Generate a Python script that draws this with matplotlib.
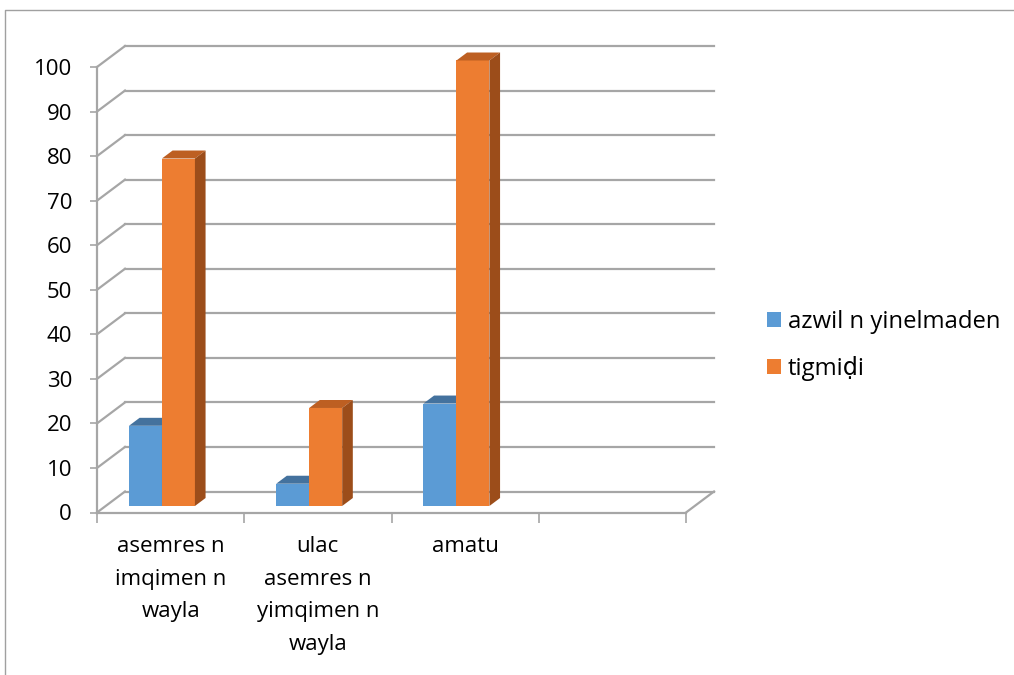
import matplotlib
matplotlib.use("Agg")
import matplotlib.pyplot as plt
from matplotlib.patches import Polygon, Patch
from matplotlib.lines import Line2D

plt.rcParams['font.family'] = ['Open Sans', 'DejaVu Sans']

categories = ["asemres n\nimqimen n\nwayla",
              "ulac\nasemres n\nyimqimen n\nwayla",
              "amatu",
              ""]
series_names = ["azwil n yinelmaden", "tigmiḍi"]
azwil = [18, 5, 23]
tigmidi = [78, 22, 100]
yticks = list(range(0, 101, 10))

front_cols = ["#5b9bd5", "#ed7d31"]
top_cols = ["#44729e", "#bd5f22"]
side_cols = ["#3b6792", "#9c4d1a"]
grid_col = "#a6a6a6"

# fake 3d: depth offset per unit depth, in data units
DX = 28 / 147.25
DY = 21 / 4.455
Z0, Z1 = 0.31, 0.69
BAR_W = 0.224
FRONT_OFF = 0.441
FS = 16

fig = plt.figure(figsize=(10.14, 6.75), dpi=100)
ax = fig.add_axes([97 / 1014, 162.5 / 675, 589 / 1014, 445.5 / 675])
ax.set_xlim(0, len(categories))
ax.set_ylim(0, 100)

# back wall and left wall gridlines
for v in yticks:
    ax.plot([DX, len(categories) + DX], [v + DY, v + DY], color=grid_col,
            lw=1.6, clip_on=False, zorder=1)
    ax.plot([0, DX], [v, v + DY], color=grid_col, lw=1.6, clip_on=False, zorder=1)
# floor right edge
ax.plot([len(categories), len(categories) + DX], [0, DY], color=grid_col,
        lw=1.6, clip_on=False, zorder=1)


def draw_bars(vals, k):
    xs = [i + FRONT_OFF + (k - 0.5) * BAR_W for i in range(len(vals))]
    ax.bar(xs, vals, width=BAR_W, bottom=Z0 * DY, color=front_cols[k],
           zorder=3 + k, clip_on=False)
    ddx = (Z1 - Z0) * DX
    ddy = (Z1 - Z0) * DY
    for x, v in zip(xs, vals):
        x0 = x - BAR_W / 2
        x1 = x + BAR_W / 2
        y0 = Z0 * DY
        y1 = v + Z0 * DY
        top = [(x0, y1), (x1, y1), (x1 + ddx, y1 + ddy), (x0 + ddx, y1 + ddy)]
        side = [(x1, y0), (x1, y1), (x1 + ddx, y1 + ddy), (x1 + ddx, y0 + ddy)]
        ax.add_patch(Polygon(top, closed=True, color=top_cols[k], zorder=3 + k,
                             clip_on=False, lw=0))
        ax.add_patch(Polygon(side, closed=True, color=side_cols[k], zorder=3 + k,
                             clip_on=False, lw=0))


draw_bars(azwil, 0)
draw_bars(tigmidi, 1)

# axes
for s in ["top", "right"]:
    ax.spines[s].set_visible(False)
for s in ["left", "bottom"]:
    ax.spines[s].set_color(grid_col)
    ax.spines[s].set_linewidth(1.6)
    ax.spines[s].set_zorder(2)

ax.set_yticks(yticks)
ax.tick_params(axis="y", direction="out", length=5, width=1.2, color=grid_col,
               pad=13, labelsize=FS, labelcolor="black")
ax.set_xticks([i + 0.5 for i in range(len(categories))])
ax.set_xticklabels(categories, linespacing=1.72)
ax.set_xticks(range(len(categories) + 1), minor=True)
ax.tick_params(axis="x", which="major", length=0, pad=17, labelsize=FS,
               labelcolor="black")
ax.tick_params(axis="x", which="minor", direction="out", length=7, width=1.2,
               color=grid_col)
for t in ax.get_xticklabels():
    t.set_verticalalignment("top")

handles = [Patch(facecolor=front_cols[0]), Patch(facecolor=front_cols[1])]
fig.legend(handles, series_names, loc="center left",
           bbox_to_anchor=(767 / 1014, 1 - 345.5 / 675), frameon=False,
           fontsize=17.2, handlelength=0.58, handleheight=0.58,
           handletextpad=0.28, labelspacing=0.95, borderpad=0, borderaxespad=0)

# chart area border
fig.add_artist(Line2D([4.5 / 1014, 4.5 / 1014, 1], [0, 1 - 10 / 675, 1 - 10 / 675],
                      transform=fig.transFigure, color="#a0a0a0", lw=1))

fig.savefig("out.png", dpi=100)
